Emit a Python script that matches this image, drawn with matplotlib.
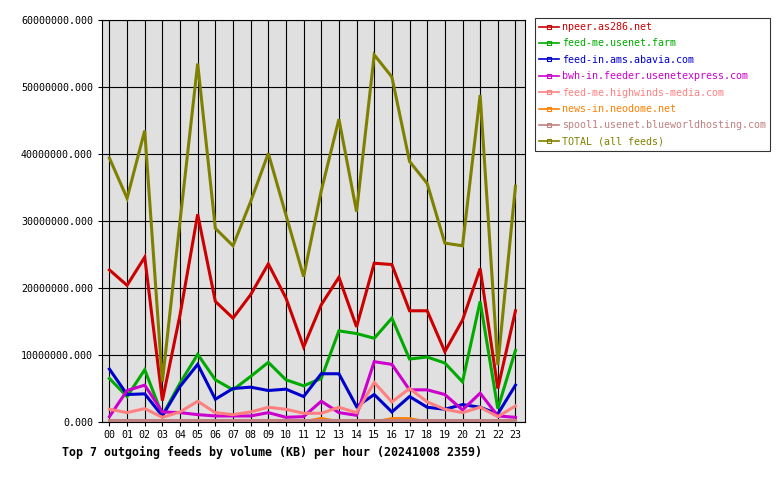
"""
Top 7 outgoing feeds by volume per hour.
"""
import matplotlib
matplotlib.use('Agg')
import matplotlib.pyplot as plt
from matplotlib.lines import Line2D

plt.rcParams['font.family'] = 'DejaVu Sans Mono'

hours = ['%02d' % h for h in range(24)]

npeer = [22.7, 20.4, 24.6, 3.2, 16.0, 31.0, 18.0, 15.5, 19.0, 23.6, 18.5, 11.2,
         17.5, 21.6, 14.2, 23.7, 23.5, 16.6, 16.6, 10.5, 15.2, 22.9, 5.0, 16.6]
feed_me = [6.5, 3.8, 7.8, 1.0, 5.8, 10.1, 6.3, 4.8, 6.8, 8.9, 6.3, 5.4,
           6.5, 13.6, 13.2, 12.5, 15.5, 9.4, 9.7, 8.8, 6.0, 18.0, 2.0, 10.7]
feed_in = [7.9, 4.1, 4.2, 0.9, 5.3, 8.6, 3.4, 5.0, 5.2, 4.7, 4.9, 3.8,
           7.2, 7.2, 2.3, 4.1, 1.5, 3.8, 2.2, 1.9, 2.6, 2.2, 1.2, 5.5]
bwh = [0.8, 4.7, 5.5, 1.5, 1.4, 1.1, 0.9, 0.9, 0.9, 1.4, 0.7, 0.8,
       3.1, 1.4, 1.0, 9.0, 8.6, 4.8, 4.8, 4.1, 1.8, 4.3, 0.9, 0.7]
highwinds = [1.9, 1.4, 2.0, 0.7, 1.5, 3.1, 1.4, 1.1, 1.5, 2.2, 1.9, 1.3,
             1.3, 2.2, 1.4, 5.9, 3.0, 5.0, 3.0, 1.9, 1.4, 2.2, 0.8, 2.4]
neodome = [0.0, 0.0, 0.0, 0.0, 0.0, 0.0, 0.0, 0.0, 0.0, 0.0, 0.0, 0.0,
           0.55, 0.0, 0.0, 0.0, 0.5, 0.5, 0.0, 0.0, 0.0, 0.0, 0.0, 0.0]
spool1 = [0.35] * 24
total = [39.4, 33.4, 43.5, 6.0, 30.0, 53.5, 28.9, 26.3, 32.9, 40.1, 30.9, 21.7,
         34.5, 45.2, 31.4, 54.8, 51.5, 38.9, 35.6, 26.7, 26.3, 48.8, 8.5, 35.2]

labels = ['npeer.as286.net', 'feed-me.usenet.farm', 'feed-in.ams.abavia.com',
          'bwh-in.feeder.usenetexpress.com', 'feed-me.highwinds-media.com',
          'news-in.neodome.net', 'spool1.usenet.blueworldhosting.com',
          'TOTAL (all feeds)']
colors = ['#CC0000', '#00AA00', '#0000CC', '#CC00CC', '#FF8080',
          '#FF8000', '#C08080', '#808000']
series = [npeer, feed_me, feed_in, bwh, highwinds, neodome, spool1, total]

fig = plt.figure(figsize=(7.8, 4.8), dpi=100)
ax = fig.add_axes([102 / 780, 58 / 480, 423 / 780, 402 / 480])
ax.set_facecolor('#E0E0E0')

x = list(range(24))
for vals, c in zip(series, colors):
  ax.plot(x, [v * 1e6 for v in vals], color=c, lw=2.2, solid_joinstyle='miter',
          zorder=3)

ax.set_xlim(-0.42, 23.54)
ax.set_ylim(0, 60e6)
ax.set_xticks(x)
ax.set_xticklabels(hours)
yt = [i * 10e6 for i in range(7)]
ax.set_yticks(yt)
ax.set_yticklabels(['%.3f' % v for v in yt])
ax.grid(True, color='black', lw=0.8, zorder=1)
ax.set_axisbelow(True)
ax.tick_params(axis='both', direction='out', length=3, width=0.8,
               labelsize=7.2, colors='black')
ax.tick_params(axis='y', pad=3.5)
ax.tick_params(axis='x', pad=3)
for s in ax.spines.values():
  s.set_color('black')
  s.set_linewidth(0.8)

handles = [Line2D([0], [0], color=c, lw=1.2, marker='s', markersize=2.5,
                  markerfacecolor='none', markeredgewidth=0.8) for c in colors]
leg = fig.legend(handles, labels, loc='upper left',
                 bbox_to_anchor=(535 / 780, 1 - 18 / 480), fontsize=7.2,
                 frameon=True, fancybox=False, handlelength=2.0,
                 handletextpad=0.3, labelspacing=0.64, borderpad=0.4,
                 borderaxespad=0)
leg.get_frame().set_edgecolor('black')
leg.get_frame().set_linewidth(0.8)
for t, c in zip(leg.get_texts(), colors):
  t.set_color(c)

fig.text(62 / 780, 1 - 452 / 480,
         'Top 7 outgoing feeds by volume (KB) per hour (20241008 2359)',
         ha='left', va='center', fontsize=8.4, fontweight='bold')

fig.savefig('out.png', dpi=100)
